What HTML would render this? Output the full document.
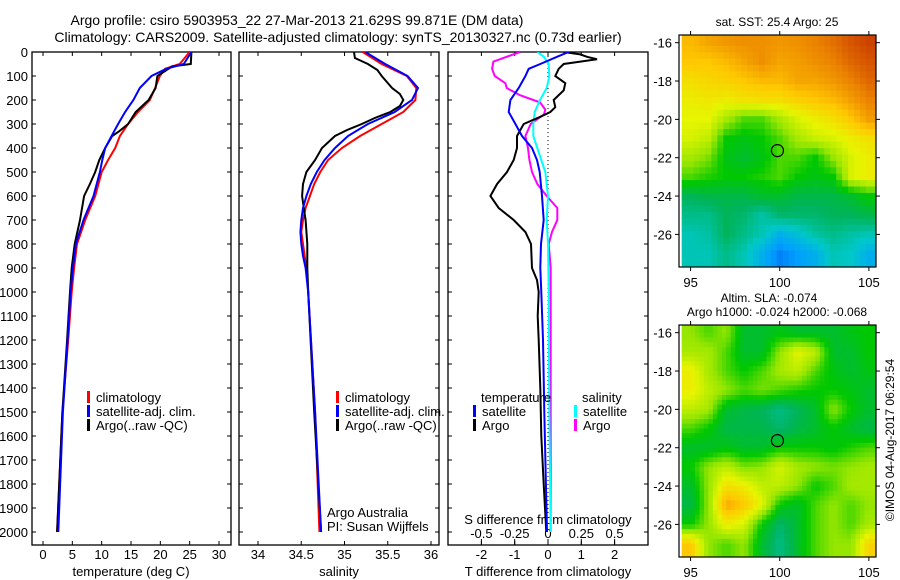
<!DOCTYPE html>
<html><head><meta charset="utf-8"><style>
html,body{margin:0;padding:0;background:#fff;}
svg{display:block;font-family:"Liberation Sans",sans-serif;}
text{font-size:13px;fill:#000;}
</style></head><body>
<svg id="chart" xmlns="http://www.w3.org/2000/svg" width="900" height="580" viewBox="0 0 900 580">
<defs>
<clipPath id="c1"><rect x="32" y="52" width="199" height="493"/></clipPath>
<clipPath id="c2"><rect x="239" y="52" width="200" height="493"/></clipPath>
<clipPath id="c3"><rect x="448" y="52" width="200" height="493"/></clipPath>
<clipPath id="cm1"><rect x="679" y="35" width="197" height="232"/></clipPath>
<clipPath id="cm2"><rect x="679" y="325" width="197" height="232"/></clipPath>
</defs>
<text x="297" y="25" text-anchor="middle" style="font-size:14px">Argo profile: csiro 5903953_22 27-Mar-2013 21.629S 99.871E (DM data)</text>
<text x="338" y="42" text-anchor="middle" style="font-size:14px">Climatology: CARS2009. Satellite-adjusted climatology: synTS_20130327.nc (0.73d earlier)</text>
<g id="g"></g>
</svg>
<script>
// ---- Data ----
const depths1 = [0,50,70,100,150,200,250,300,350,400,450,500,600,700,800,900,1000,1200,1500,2000];
const tempClim = [25.0,23.3,20.8,19.9,19.1,18.2,16.2,14.5,13.1,12.3,11.1,10.0,8.9,7.2,5.8,5.3,4.9,4.3,3.3,2.4];
const tempSat  = [25.3,24.0,21.0,18.5,16.5,15.4,14.0,12.8,11.7,10.6,10.1,9.7,8.6,6.9,5.6,5.1,4.7,4.2,3.4,2.6];
const depthsArgoT = [0,50,60,100,150,200,250,300,330,350,400,450,500,550,600,700,800,900,1000,1200,1500,2000];
const tempArgo = [25.3,25.2,22.0,19.5,19.2,18.0,15.8,14.5,13.0,11.8,10.6,9.6,8.9,8.0,7.0,6.3,5.4,4.9,4.6,4.1,3.3,2.4];

const depths2 = [0,50,100,150,200,250,300,350,400,450,500,550,600,650,700,750,800,850,900,1000,1500,2000];
const salClim = [35.21,35.43,35.72,35.83,35.82,35.68,35.43,35.18,34.97,34.81,34.72,34.65,34.60,34.55,34.52,34.50,34.52,34.54,34.56,34.58,34.66,34.71];
const salSat  = [35.24,35.47,35.73,35.85,35.78,35.58,35.27,35.04,34.89,34.77,34.68,34.61,34.56,34.52,34.50,34.49,34.50,34.52,34.55,34.58,34.66,34.73];
const depthsArgoS = [0,25,50,75,100,125,150,175,200,225,250,275,300,325,350,400,450,500,550,600,650,700,800,900,1000,1500,2000];
const salArgo = [35.11,35.12,35.27,35.38,35.43,35.49,35.55,35.64,35.68,35.64,35.53,35.35,35.20,35.03,34.89,34.74,34.66,34.56,34.52,34.51,34.53,34.55,34.57,34.57,34.58,34.65,34.73];

const depthsDT = [0,10,20,30,40,50,70,100,130,160,200,230,250,270,300,350,400,450,500,550,600,650,700,750,800,900,950,1000,1100,1200,1400,1600,1800,2000];
const dTArgo = [0.47,0.97,1.17,1.47,0.97,0.47,0.32,0.22,0.52,0.47,0.17,0.22,0.07,-0.23,-0.73,-0.93,-0.93,-1.03,-1.23,-1.53,-1.73,-1.48,-1.03,-0.68,-0.51,-0.48,-0.33,-0.28,-0.31,-0.28,-0.23,-0.20,-0.13,-0.05];
const depthsDTs = [0,20,50,70,100,150,200,250,300,350,400,450,500,600,700,800,900,1000,1200,1500,2000];
const dTSat = [0.62,0.27,-0.23,-0.58,-0.68,-0.88,-1.13,-1.18,-0.98,-0.78,-0.48,-0.33,-0.25,-0.18,-0.13,-0.21,-0.23,-0.20,-0.15,-0.11,-0.03];
const depthsDSs = [0,20,50,100,150,200,250,300,350,400,450,500,600,700,800,1000,1500,2000];
const dSSat = [-0.08,-0.03,0.005,0.01,-0.01,-0.06,-0.10,-0.11,-0.11,-0.08,-0.05,-0.02,0,-0.01,0,0.005,0.01,0.02];
const depthsDSa = [0,40,70,100,130,150,180,210,240,260,280,300,350,400,450,500,550,600,650,700,750,800,900,1000,1500,2000];
const dSArgo = [-0.21,-0.41,-0.42,-0.40,-0.32,-0.31,-0.21,-0.06,-0.02,-0.03,-0.08,-0.13,-0.17,-0.15,-0.14,-0.12,-0.08,-0.01,0.07,0.07,0.03,0.005,0.02,0.02,0.02,0.02];

const depthTicks = [0,100,200,300,400,500,600,700,800,900,1000,1100,1200,1300,1400,1500,1600,1700,1800,1900,2000];
const tempTicks = [0,5,10,15,20,25,30];
const salTicks = [34,34.5,35,35.5,36];
const dTTicks = [-2,-1,0,1,2];
const dSTicks = [-0.5,-0.25,0,0.25,0.5];
const dSTickLabels = ["-0.5","-0.25","0","0.25","0.5"];
const lonTicks = [95,100,105];
const latTicks = [-16,-18,-20,-22,-24,-26];

const mapLons = [95,96,97,98,99,100,101,102,103,104,105];
const mapLats = [-16,-17,-18,-19,-20,-21,-22,-23,-24,-25,-26,-27];
const sstGrid = [
[0.82,0.85,0.87,0.88,0.88,0.87,0.88,0.90,0.92,0.95,0.97],
[0.80,0.80,0.82,0.85,0.88,0.85,0.86,0.88,0.90,0.93,0.95],
[0.75,0.77,0.78,0.80,0.82,0.82,0.85,0.85,0.87,0.90,0.93],
[0.72,0.73,0.72,0.74,0.75,0.75,0.78,0.80,0.82,0.86,0.90],
[0.70,0.70,0.62,0.55,0.55,0.62,0.68,0.72,0.75,0.80,0.86],
[0.68,0.65,0.50,0.48,0.50,0.55,0.62,0.66,0.68,0.72,0.75],
[0.62,0.58,0.48,0.45,0.48,0.55,0.55,0.50,0.60,0.68,0.72],
[0.55,0.52,0.50,0.50,0.52,0.55,0.50,0.48,0.50,0.68,0.72],
[0.40,0.42,0.42,0.42,0.45,0.45,0.42,0.42,0.42,0.45,0.50],
[0.35,0.35,0.40,0.38,0.32,0.38,0.38,0.38,0.40,0.40,0.42],
[0.30,0.32,0.40,0.35,0.30,0.20,0.25,0.32,0.35,0.32,0.30],
[0.30,0.30,0.35,0.30,0.20,0.10,0.15,0.20,0.30,0.28,0.20]];
const slaGrid = [
[0.60,0.55,0.60,0.45,0.45,0.48,0.45,0.45,0.45,0.48,0.50],
[0.62,0.62,0.55,0.45,0.45,0.60,0.70,0.65,0.45,0.45,0.50],
[0.72,0.62,0.55,0.50,0.55,0.62,0.65,0.55,0.48,0.45,0.48],
[0.72,0.65,0.60,0.55,0.58,0.55,0.52,0.50,0.50,0.48,0.45],
[0.65,0.62,0.45,0.42,0.40,0.35,0.40,0.45,0.60,0.50,0.45],
[0.55,0.50,0.42,0.42,0.42,0.38,0.42,0.45,0.50,0.45,0.42],
[0.45,0.45,0.48,0.45,0.45,0.50,0.50,0.50,0.48,0.52,0.55],
[0.50,0.60,0.65,0.58,0.60,0.68,0.62,0.60,0.58,0.60,0.62],
[0.45,0.60,0.75,0.72,0.65,0.65,0.60,0.50,0.55,0.62,0.62],
[0.42,0.60,0.85,0.80,0.70,0.50,0.45,0.55,0.60,0.55,0.60],
[0.50,0.60,0.72,0.68,0.50,0.38,0.45,0.55,0.60,0.55,0.62],
[0.80,0.60,0.55,0.60,0.45,0.35,0.45,0.55,0.60,0.60,0.78]];
const floatLon = 99.871, floatLat = -21.629;

// ---- Scales ----
const yD = d => 52 + d*0.24;
const xT = v => 43 + v*5.867;
const xS = v => 258 + (v-34)*86.5;
const xDT = v => 548 + v*33.3;
const xDS = v => 548 + v*133.2;
const lonX = l => 679 + (l-94.35)*(197/11.05);
const latY = (l,off) => off + 35 + (-15.6-l)*(232/12.1);

const NS = "http://www.w3.org/2000/svg";
const G = document.getElementById('g');
function el(tag, attrs, parent){ const e=document.createElementNS(NS,tag); for(const k in attrs) e.setAttribute(k,attrs[k]); (parent||G).appendChild(e); return e; }
function txt(x,y,s,anchor,size){ const t=el('text',{x:x,y:y,'text-anchor':anchor||'start'}); if(size) t.style.fontSize=size+'px'; t.textContent=s; return t; }

const frames=[[32,52,199,493,'temperature-panel-frame'],[239,52,200,493,'salinity-panel-frame'],[448,52,200,493,'difference-panel-frame']];
frames.forEach(f=>{ const r=el('rect',{x:f[0],y:f[1],width:f[2],height:f[3],fill:'none',stroke:'#000','stroke-width':1.3});

 });

depthTicks.forEach(d=>{ const y=yD(d);
 frames.forEach(f=>{ el('line',{x1:f[0],x2:f[0]+4,y1:y,y2:y,stroke:'#000'}); el('line',{x1:f[0]+f[2]-4,x2:f[0]+f[2],y1:y,y2:y,stroke:'#000'}); });
 const t=txt(28,y+5,String(d),'end');
 
 
});
function xticks(ticks,fx,labels,ytxt,top){ ticks.forEach((v,i)=>{ const x=fx(v);
 el('line',{x1:x,x2:x,y1:545,y2:541,stroke:'#000'}); if(top) el('line',{x1:x,x2:x,y1:52,y2:56,stroke:'#000'});
 const t=txt(x,ytxt,labels?labels[i]:String(v),'middle');
 
  }); }
xticks(tempTicks,xT,null,559,true);
xticks(salTicks,xS,null,559,true);
xticks(dTTicks,xDT,null,559,true);
dSTicks.forEach((v,i)=>{ const x=xDS(v); el('line',{x1:x,x2:x,y1:545,y2:539,stroke:'#000'});
 const t=txt(x,538,dSTickLabels[i],'middle');
 
  });
let a;
a=txt(131,576,'temperature (deg C)','middle');  
a=txt(339,576,'salinity','middle');  
a=txt(548,576,'T difference from climatology','middle');  
a=txt(548,524,'S difference from climatology','middle');  
el('line',{x1:548,x2:548,y1:52,y2:515,stroke:'#000','stroke-dasharray':'1,3'});

function line(ds,vs,fx,color,clip,name){ const pts=ds.map((d,i)=>fx(vs[i]).toFixed(1)+','+yD(d).toFixed(1)).join(' ');
 const p=el('polyline',{points:pts,fill:'none',stroke:color,'stroke-width':2,'clip-path':'url(#'+clip+')'});
 
  }
line(depths1,tempClim,xT,'#f00','c1','temp-climatology-line');
line(depthsArgoT,tempArgo,xT,'#000','c1','temp-argo-line');
line(depths1,tempSat,xT,'#00f','c1','temp-satellite-line');
line(depths2,salClim,xS,'#f00','c2','sal-climatology-line');
line(depthsArgoS,salArgo,xS,'#000','c2','sal-argo-line');
line(depths2,salSat,xS,'#00f','c2','sal-satellite-line');
line(depthsDSa,dSArgo,xDS,'#f0f','c3','s-diff-argo-line');
line(depthsDSs,dSSat,xDS,'#0ff','c3','s-diff-satellite-line');
line(depthsDT,dTArgo,xDT,'#000','c3','t-diff-argo-line');
line(depthsDTs,dTSat,xDT,'#00f','c3','t-diff-satellite-line');

function legend(mx,y,color,label){ el('rect',{x:mx-1,y:y-6,width:3,height:12,fill:color}); const t=txt(mx+8,y+5,label);
 
  }
[[88,'#f00','climatology'],[88,'#00f','satellite-adj. clim.'],[88,'#000','Argo(..raw -QC)']].forEach((l,i)=>legend(l[0],397+14*i,l[1],l[2]));
[[337,'#f00','climatology'],[337,'#00f','satellite-adj. clim.'],[337,'#000','Argo(..raw -QC)']].forEach((l,i)=>legend(l[0],397+14*i,l[1],l[2]));
a=txt(481,402,'temperature');  
a=txt(582,402,'salinity');  
legend(474,411,'#00f','satellite'); legend(474,425,'#000','Argo');
legend(575,411,'#0ff','satellite'); legend(575,425,'#f0f','Argo');
a=txt(327,517,'Argo Australia');  
a=txt(327,531,'PI: Susan Wijffels');  

const stops=[[0,[0,70,230]],[0.15,[0,160,255]],[0.28,[0,200,200]],[0.4,[0,180,90]],[0.5,[0,200,0]],[0.6,[150,230,0]],[0.7,[230,245,0]],[0.8,[255,200,0]],[0.9,[235,130,0]],[1,[190,40,0]]];
function cmap(v){ v=Math.max(0,Math.min(1,v)); for(let i=1;i<stops.length;i++){ if(v<=stops[i][0]){ const a=stops[i-1],b=stops[i],t=(v-a[0])/(b[0]-a[0]);
 return 'rgb('+a[1].map((c,k)=>Math.round(c+(b[1][k]-c)*t)).join(',')+')'; } } return 'rgb(190,40,0)'; }

// bilinear sample of grid at fractional row/col
function sample(grid,r,c){ r=Math.max(0,Math.min(grid.length-1,r)); c=Math.max(0,Math.min(grid[0].length-1,c));
 const r0=Math.floor(r),c0=Math.floor(c),r1=Math.min(r0+1,grid.length-1),c1=Math.min(c0+1,grid[0].length-1),fr=r-r0,fc=c-c0;
 return grid[r0][c0]*(1-fr)*(1-fc)+grid[r0][c1]*(1-fr)*fc+grid[r1][c0]*fr*(1-fc)+grid[r1][c1]*fr*fc; }

function map(grid,off,clip,name,sub){
 const g=el('g',{'clip-path':'url(#'+clip+')'});
 
 
 const step=1/sub;
 for(let lat=mapLats[0]+0.5; lat>mapLats[mapLats.length-1]-0.5-1e-9; lat-=step){
  for(let lon=mapLons[0]-0.5; lon<mapLons[mapLons.length-1]+0.5-1e-9; lon+=step){
   const cl=lat-step/2, cn=lon+step/2;
   const r=(mapLats[0]-cl)/(mapLats[0]-mapLats[1]), c=(cn-mapLons[0])/(mapLons[1]-mapLons[0]);
   const x0=lonX(lon),x1=lonX(lon+step),y0=latY(lat,off),y1=latY(lat-step,off);
   const cell=el('rect',{x:x0.toFixed(1),y:y0.toFixed(1),width:(x1-x0+0.6).toFixed(1),height:(y1-y0+0.6).toFixed(1),fill:cmap(sample(grid,r,c))},g);
   
   
  }
 }
 const fr=el('rect',{x:679,y:off+35,width:197,height:232,fill:'none',stroke:'#000','stroke-width':1.2});
 
 
 lonTicks.forEach(l=>{ const x=lonX(l); el('line',{x1:x,x2:x,y1:off+35,y2:off+31,stroke:'#000'}); el('line',{x1:x,x2:x,y1:off+267,y2:off+271,stroke:'#000'});
  const t=txt(x,off+287,String(l),'middle');   });
 latTicks.forEach(l=>{ const y=latY(l,off); el('line',{x1:675,x2:679,y1:y,y2:y,stroke:'#000'}); el('line',{x1:876,x2:880,y1:y,y2:y,stroke:'#000'});
  const t=txt(672,y+5,String(l),'end');   });
 const c=el('circle',{cx:lonX(floatLon),cy:latY(floatLat,off),r:6,fill:'none',stroke:'#000','stroke-width':1.2});
 
 
}
map(sstGrid,0,'cm1','sst-map',3);
map(slaGrid,290,'cm2','sla-map',4);
a=txt(777,26,'sat. SST: 25.4 Argo: 25','middle',12);  
a=txt(769,302,'Altim. SLA: -0.074','middle',12);  
a=txt(777,316,'Argo h1000: -0.024 h2000: -0.068','middle',12);  
a=txt(0,0,'©IMOS 04-Aug-2017 06:29:54','middle',12); a.setAttribute('transform','translate(894,440) rotate(-90)');
 
</script>
</body></html>
